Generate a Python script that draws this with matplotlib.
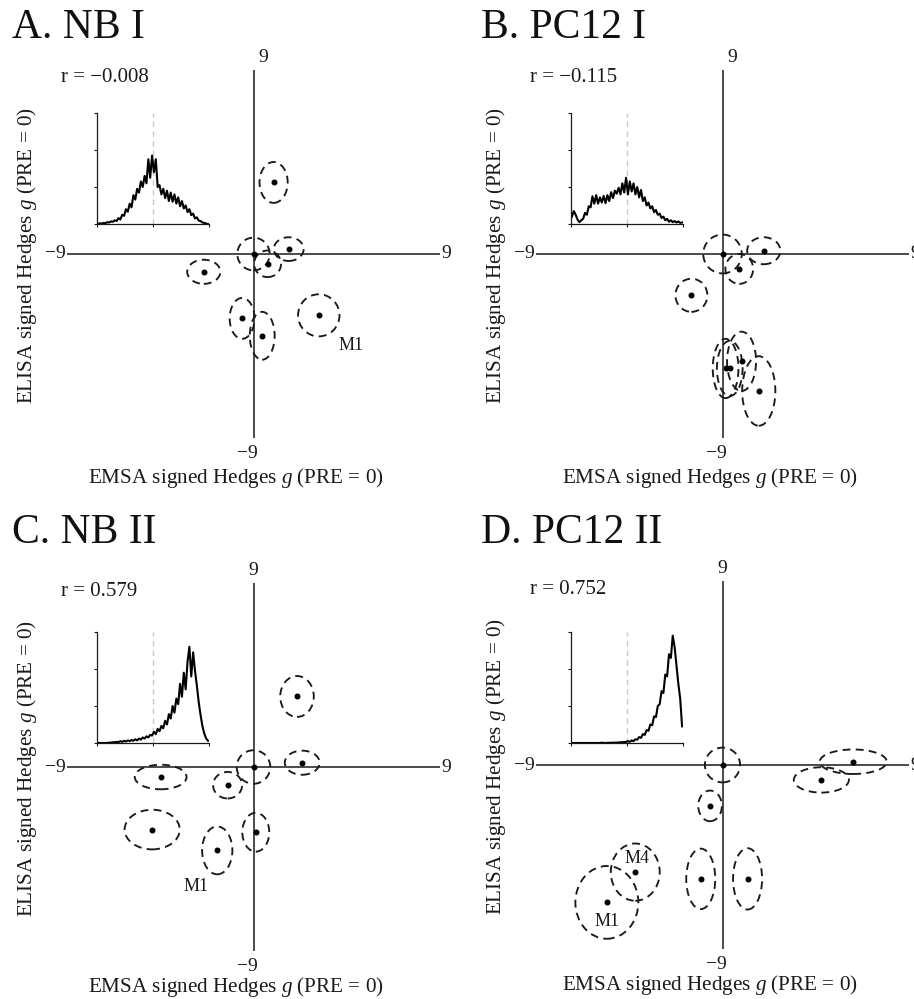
import numpy as np
import matplotlib
matplotlib.use('Agg')
import matplotlib.pyplot as plt
from matplotlib.patches import Ellipse

plt.rcParams['font.family'] = ['Liberation Serif', 'DejaVu Serif']
plt.rcParams['mathtext.fontset'] = 'custom'
plt.rcParams['mathtext.rm'] = 'Liberation Serif'
plt.rcParams['mathtext.it'] = 'Liberation Serif:italic'

# ---------------- data ----------------
titles = ['A. NB I', 'B. PC12 I', 'C. NB II', 'D. PC12 II']
r_labels = ['r = \u22120.008', 'r = \u22120.115', 'r = 0.579', 'r = 0.752']

# panel A (NB I): EMSA g, ELISA g, ellipse full widths / heights
a_x = [0.0, 0.97, 0.68, 1.70, -2.40, -0.55, 0.42, 3.15]
a_y = [0.0, 3.50, -0.48, 0.24, -0.87, -3.15, -4.00, -3.00]
a_w = [1.56, 1.36, 1.30, 1.44, 1.60, 1.20, 1.20, 2.00]
a_h = [1.60, 2.00, 1.30, 1.16, 1.18, 2.00, 2.34, 2.06]

# panel B (PC12 I)
b_x = [0.0, 1.99, 0.81, -1.50, 0.15, 0.35, 0.92, 1.75]
b_y = [0.0, 0.16, -0.73, -2.02, -5.60, -5.60, -5.25, -6.70]
b_w = [1.86, 1.60, 1.34, 1.54, 1.24, 1.24, 1.40, 1.60]
b_h = [1.90, 1.32, 1.46, 1.62, 2.90, 2.70, 2.90, 3.40]

# panel C (NB II)
c_x = [0.0, 2.10, 2.35, -4.48, -1.25, -4.89, -1.75, 0.11]
c_y = [0.0, 3.45, 0.21, -0.49, -0.89, -3.06, -4.08, -3.19]
c_w = [1.62, 1.62, 1.68, 2.50, 1.40, 2.66, 1.46, 1.30]
c_h = [1.64, 2.00, 1.18, 1.20, 1.30, 1.94, 2.34, 1.90]

# panel D (PC12 II)
d_x = [0.0, 6.31, 4.77, -0.60, -1.05, 1.21, -4.21, -5.58]
d_y = [0.0, 0.16, -0.73, -2.00, -5.57, -5.57, -5.24, -6.72]
d_w = [1.70, 3.24, 2.66, 1.14, 1.40, 1.40, 2.36, 3.04]
d_h = [1.70, 1.20, 1.24, 1.50, 2.96, 3.00, 2.80, 3.56]

# point labels
a_lab = [('M1', 4.7, -4.5)]
b_lab = []
c_lab = [('M1', -2.75, -5.86)]
d_lab = [('M4', -4.13, -4.56), ('M1', -5.58, -7.64)]

# inset distributions of r (60 bins from -1 to 1)
hist_a = [0.00, 0.02, 0.01, 0.03, 0.02, 0.05, 0.04, 0.07, 0.06, 0.10,
          0.08, 0.16, 0.12, 0.25, 0.22, 0.40, 0.33, 0.55, 0.45, 0.78,
          0.66, 0.95, 0.85, 1.15, 1.00, 1.30, 1.10, 1.75, 1.25, 1.85,
          1.40, 1.75, 1.00, 1.05, 0.80, 0.95, 0.70, 0.90, 0.62, 0.85,
          0.60, 0.80, 0.55, 0.72, 0.48, 0.62, 0.42, 0.50, 0.32, 0.40,
          0.24, 0.28, 0.15, 0.18, 0.09, 0.08, 0.04, 0.03, 0.01, 0.00]
hist_b = [0.20, 0.35, 0.25, 0.12, 0.05, 0.10, 0.14, 0.30, 0.25, 0.48,
          0.45, 0.75, 0.55, 0.78, 0.55, 0.72, 0.58, 0.76, 0.56, 0.78,
          0.62, 0.86, 0.70, 0.90, 0.82, 0.98, 0.80, 1.10, 0.85, 1.25,
          0.80, 1.15, 0.88, 1.10, 0.80, 1.00, 0.72, 0.92, 0.62, 0.72,
          0.50, 0.58, 0.42, 0.48, 0.32, 0.38, 0.25, 0.28, 0.16, 0.20,
          0.10, 0.14, 0.06, 0.10, 0.05, 0.08, 0.04, 0.07, 0.03, 0.04]
hist_c = [0.00, 0.00, 0.00, 0.00, 0.00, 0.00, 0.01, 0.01, 0.02, 0.02,
          0.03, 0.02, 0.05, 0.03, 0.06, 0.04, 0.07, 0.05, 0.08, 0.06,
          0.10, 0.07, 0.12, 0.09, 0.15, 0.12, 0.18, 0.15, 0.22, 0.20,
          0.30, 0.24, 0.38, 0.32, 0.46, 0.40, 0.60, 0.50, 0.78, 0.66,
          1.00, 0.82, 1.20, 1.05, 1.60, 1.25, 1.90, 1.45, 2.20, 2.60,
          1.80, 2.45, 1.95, 1.55, 1.10, 0.75, 0.45, 0.25, 0.12, 0.06]
hist_d = [0.00, 0.00, 0.00, 0.00, 0.00, 0.00, 0.00, 0.00, 0.00, 0.00,
          0.00, 0.00, 0.00, 0.00, 0.00, 0.00, 0.01, 0.00, 0.00, 0.005,
          0.005, 0.005, 0.01, 0.01, 0.01, 0.015, 0.02, 0.02, 0.025, 0.03,
          0.05, 0.03, 0.07, 0.05, 0.10, 0.09, 0.16, 0.14, 0.24, 0.22,
          0.35, 0.33, 0.50, 0.48, 0.72, 0.70, 1.00, 1.05, 1.40, 1.35,
          1.85, 1.80, 2.40, 2.30, 2.90, 2.60, 2.10, 1.60, 1.20, 0.45]

panels = [
    (a_x, a_y, a_w, a_h, a_lab, hist_a),
    (b_x, b_y, b_w, b_h, b_lab, hist_b),
    (c_x, c_y, c_w, c_h, c_lab, hist_c),
    (d_x, d_y, d_w, d_h, d_lab, hist_d),
]

# ---------------- layout (pixels) ----------------
W, H = 914, 999
fig = plt.figure(figsize=(W / 100, H / 100), dpi=100)


def fr(x, y):
    return x / W, 1 - y / H


def rect(l, t, r, b):
    return [l / W, 1 - b / H, (r - l) / W, (b - t) / H]


offsets = [(0, 0), (469, 0), (0, 513), (469, 511)]
top9_dx = [10, 10, 0, 0]
title_dy = [0, 0, 505, 505]

ink = '#1a1a1a'
LAB = 15.2
TICK = 14
RSIZE = 15

for i, (gx, gy, gw, gh, labs, hist) in enumerate(panels):
    ox, oy = offsets[i]
    ax = fig.add_axes(rect(67 + ox, 70 + oy, 440 + ox, 438 + oy))
    ax.set_xlim(-9, 9)
    ax.set_ylim(-9, 9)
    ax.axis('off')
    ax.axhline(0, color=ink, lw=1.1, zorder=1)
    ax.axvline(0, color=ink, lw=1.1, zorder=1)
    for x, y, w, h in zip(gx, gy, gw, gh):
        ax.add_patch(Ellipse((x, y), w, h, fill=False, ec=ink, lw=1.35,
                             ls=(0, (4.2, 2.8)), clip_on=False, zorder=2))
    ax.plot(gx, gy, 'o', ms=3.3, color='k', zorder=3, clip_on=False)
    for t, x, y in labs:
        ax.text(x, y, t, fontsize=13, ha='center', va='center', color=ink)

    # end labels
    ax.annotate('9', xy=(0.5, 1), xycoords='axes fraction',
                xytext=(top9_dx[i], 4), textcoords='offset pixels',
                ha='center', va='bottom', fontsize=TICK, color=ink)
    ax.annotate('\u22129', xy=(0.5, 0), xycoords='axes fraction',
                xytext=(-6, -7), textcoords='offset pixels',
                ha='center', va='top', fontsize=TICK, color=ink)
    ax.annotate('\u22129', xy=(0, 0.5), xycoords='axes fraction',
                xytext=(-1, 0), textcoords='offset pixels',
                ha='right', va='center', fontsize=TICK, color=ink)
    ax.annotate('9', xy=(1, 0.5), xycoords='axes fraction',
                xytext=(1, 0), textcoords='offset pixels',
                ha='left', va='center', fontsize=TICK, color=ink,
                annotation_clip=False)

    # texts
    tx, ty = fr(12 + ox, 28 + title_dy[i])
    fig.text(tx, ty, titles[i], fontsize=30, ha='left', va='center', color='#111')
    rx, ry = fr(61 + ox, 77 + oy + (2 if i >= 2 else 0))
    fig.text(rx, ry, r_labels[i], fontsize=RSIZE, ha='left', va='center', color=ink)
    xlx, xly = fr(236 + ox + (5 if i % 2 else 0), 478 + oy - (4 if i >= 2 else 0))
    fig.text(xlx, xly, 'EMSA signed Hedges $g$ (PRE = 0)', fontsize=LAB,
             ha='center', va='center', color=ink)
    ylx, yly = fr(27 + ox, 256 + oy)
    fig.text(ylx, yly, 'ELISA signed Hedges $g$ (PRE = 0)', fontsize=LAB,
             ha='center', va='center', rotation=90, color=ink)

    # inset
    iox = 97 if i % 2 == 0 else 571
    ioy = 113 + (0 if i < 2 else 519)
    ia = fig.add_axes(rect(iox, ioy, iox + 112, ioy + 111))
    edges = np.linspace(-1, 1, len(hist) + 1)
    centers = (edges[:-1] + edges[1:]) / 2
    ia.axvline(0, color='#c8c8c8', lw=1.0, ls=(0, (4, 3)), zorder=1)
    ia.plot(centers, hist, color='k', lw=1.5, zorder=2)
    ia.set_xlim(-1, 1)
    ia.set_ylim(0, 3)
    ia.set_xticks([-1, 0, 1])
    ia.set_yticks([0, 1, 2, 3])
    ia.tick_params(length=2.5, width=0.8, labelleft=False, labelbottom=False,
                   color=ink, direction='out')
    for s in ['top', 'right']:
        ia.spines[s].set_visible(False)
    for s in ['left', 'bottom']:
        ia.spines[s].set_linewidth(0.9)
        ia.spines[s].set_color(ink)
    ia.patch.set_alpha(0)

fig.savefig('out.png', dpi=100, facecolor='white')
